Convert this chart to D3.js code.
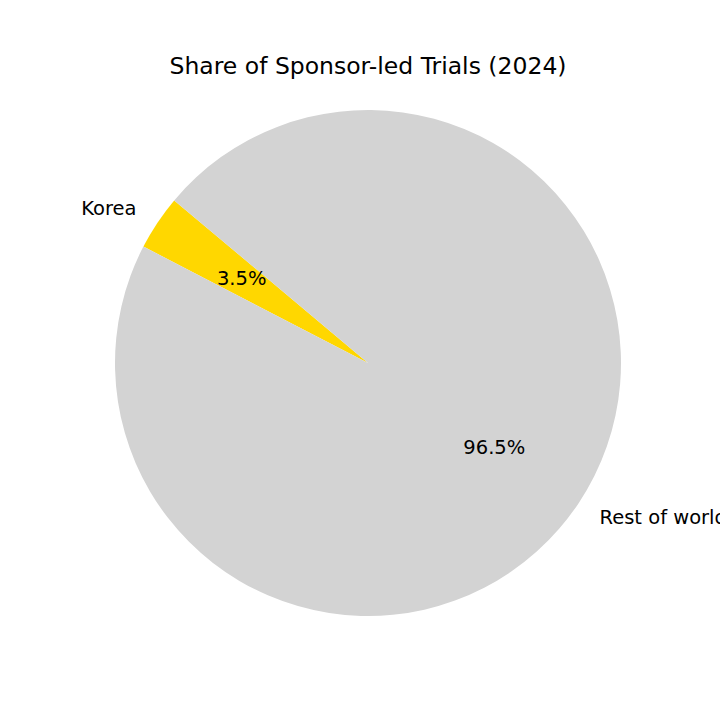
<!DOCTYPE html>
<html>
<head>
<meta charset="utf-8">
<script src="https://cdn.jsdelivr.net/npm/d3@7"></script>
<style>
  body { margin: 0; background: #fff; }
  svg { display: block; font-family: "DejaVu Sans", sans-serif; }
</style>
</head>
<body>
<svg width="720" height="720"></svg>
<script>
var labels = ["Korea", "Rest of world"];
var shares = [3.5, 96.5];
var colors = ["#ffd700", "#d3d3d3"];
var title = "Share of Sponsor-led Trials (2024)";

var svg = d3.select("svg");
var cx = 368, cy = 363, radius = 253;

// matplotlib startangle=140, counterclockwise -> d3 angles (clockwise from 12 o'clock)
var start = (90 - 140) * Math.PI / 180;

var pie = d3.pie()
  .sort(null)
  .value(function(d) { return d; })
  .startAngle(start)
  .endAngle(start - 2 * Math.PI);

var arcs = pie(shares);

var arc = d3.arc().innerRadius(0).outerRadius(radius);
var labelArc = d3.arc().innerRadius(radius * 1.1).outerRadius(radius * 1.1);
var pctArc = d3.arc().innerRadius(radius * 0.6).outerRadius(radius * 0.6);

var g = svg.append("g").attr("transform", "translate(" + cx + "," + cy + ")");

g.selectAll("path")
  .data(arcs)
  .enter().append("path")
  .attr("d", arc)
  .attr("fill", function(d, i) { return colors[i]; });

g.selectAll("text.label")
  .data(arcs)
  .enter().append("text")
  .attr("class", "label")
  .attr("transform", function(d) { return "translate(" + labelArc.centroid(d) + ")"; })
  .attr("text-anchor", function(d) { return labelArc.centroid(d)[0] < 0 ? "end" : "start"; })
  .attr("dominant-baseline", "central")
  .attr("font-size", 19.5)
  .attr("fill", "#000")
  .text(function(d, i) { return labels[i]; });

g.selectAll("text.pct")
  .data(arcs)
  .enter().append("text")
  .attr("class", "pct")
  .attr("transform", function(d) { return "translate(" + pctArc.centroid(d) + ")"; })
  .attr("text-anchor", "middle")
  .attr("dominant-baseline", "central")
  .attr("font-size", 19.5)
  .attr("fill", "#000")
  .text(function(d) { return d.data.toFixed(1) + "%"; });

svg.append("text")
  .attr("x", cx)
  .attr("y", 66)
  .attr("text-anchor", "middle")
  .attr("dominant-baseline", "central")
  .attr("font-size", 23.5)
  .attr("fill", "#000")
  .text(title);
</script>
</body>
</html>
